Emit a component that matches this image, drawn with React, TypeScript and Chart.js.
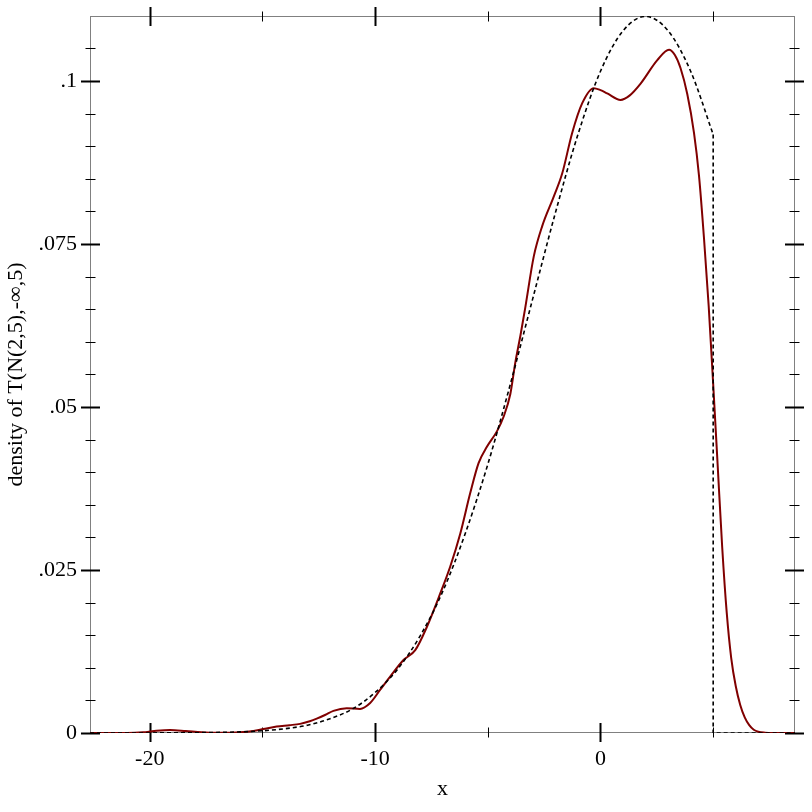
import { useEffect, useRef } from 'react';
import { Chart, registerables } from 'chart.js';

Chart.register(...registerables);

const xRange = [-22.65, 8.63];
const yRange = [0, 0.10997];

const xMajorTicks = [-20, -10, 0];
const xMinorTicks = [-15, -5, 5];
const yMajorTicks = [0, 0.025, 0.05, 0.075, 0.1];
const yTickLabels = ['0', '.025', '.05', '.075', '.1'];
const yMinorTicks = [0.005, 0.01, 0.015, 0.02, 0.03, 0.035, 0.04, 0.045, 0.055, 0.06, 0.065, 0.07, 0.08, 0.085, 0.09, 0.095, 0.105];

// kernel density estimate (solid dark red)
const kdeX = [-22.65, -21.0, -20.3, -19.8, -19.1, -18.4, -17.7, -17.0, -16.0, -15.4, -14.96, -14.37, -13.8, -13.33, -12.9, -12.59, -12.2, -11.85, -11.26, -10.67, -10.22, -9.78, -9.3, -8.74, -8.22, -7.7, -7.11, -6.67, -6.22, -5.78, -5.41, -5.04, -4.59, -4.3, -4.0, -3.78, -3.55, -3.33, -2.96, -2.59, -2.07, -1.7, -1.26, -0.81, -0.3, 0.0, 0.3, 0.89, 1.3, 1.78, 2.52, 3.04, 3.3, 3.55, 3.85, 4.15, 4.37, 4.59, 4.8, 5.0, 5.2, 5.4, 5.6, 5.8, 6.0, 6.2, 6.4, 6.6, 6.8, 7.0, 7.3, 7.6, 8.63];
const kdeY = [0, 0, 0.0001, 0.0003, 0.00046, 0.0003, 0.0001, 0.00002, 0.0001, 0.0003, 0.0006, 0.001, 0.0012, 0.0014, 0.0018, 0.0022, 0.0028, 0.0034, 0.0038, 0.0037, 0.0046, 0.0066, 0.0088, 0.0112, 0.0127, 0.0163, 0.0214, 0.0255, 0.0306, 0.0368, 0.0414, 0.0439, 0.0463, 0.0485, 0.052, 0.0568, 0.061, 0.0654, 0.0731, 0.0777, 0.0823, 0.0858, 0.092, 0.0966, 0.0989, 0.0986, 0.0981, 0.0971, 0.0978, 0.0996, 0.1032, 0.1048, 0.104, 0.102, 0.098, 0.092, 0.0855, 0.076, 0.0655, 0.0535, 0.041, 0.0285, 0.0185, 0.0115, 0.0072, 0.0043, 0.0024, 0.0012, 0.0005, 0.0002, 0.00005, 0, 0];

// truncated normal density (dashed black)
const pdfX = [-22.65, -20, -18, -16, -15, -14, -13, -12, -11, -10, -9, -8, -7, -6, -5, -4, -3, -2, -1, 0, 1, 2, 3, 4, 5];
const pdfY = [0, 0.00001, 0.00004, 0.00017, 0.00034, 0.00066, 0.0012, 0.0022, 0.0037, 0.0062, 0.0098, 0.0149, 0.0217, 0.0306, 0.0412, 0.0535, 0.0667, 0.0798, 0.0918, 0.1015, 0.1077, 0.1099, 0.1077, 0.1015, 0.0918];
const cutX = [5, 5, 8.63];
const cutY = [0.0918, 0, 0];

const FONT = 'Liberation Serif, Times New Roman, serif';
const FONT_SIZE = 22;

const frameTicks = {
  id: 'frameTicks',
  beforeDatasetsDraw(chart: any) {
    const { ctx, chartArea: a, scales } = chart;
    const xs = scales.x;
    const ys = scales.y;
    const L = Math.round(a.left) + 0.5;
    const R = Math.round(a.right) - 0.5;
    const T = Math.round(a.top) + 0.5;
    const B = Math.round(a.bottom) - 0.5;
    ctx.save();
    ctx.lineWidth = 1;
    ctx.strokeStyle = '#808080';
    ctx.strokeRect(L, T, R - L, B - T);
    ctx.strokeStyle = '#000';
    const vt = (v: number, h: number, w: number) => {
      const px = Math.round(xs.getPixelForValue(v)) + 0.5;
      ctx.lineWidth = w;
      ctx.beginPath();
      ctx.moveTo(px, B - h); ctx.lineTo(px, B + h);
      ctx.moveTo(px, T - h); ctx.lineTo(px, T + h);
      ctx.stroke();
    };
    const ht = (v: number, h: number, w: number) => {
      const py = Math.round(ys.getPixelForValue(v)) + 0.5;
      ctx.lineWidth = w;
      ctx.beginPath();
      ctx.moveTo(L - h, py); ctx.lineTo(L + h, py);
      ctx.moveTo(R - h, py); ctx.lineTo(R + h, py);
      ctx.stroke();
    };
    xMajorTicks.forEach((v) => vt(v, 9.5, 2));
    xMinorTicks.forEach((v) => vt(v, 5, 1));
    yMajorTicks.forEach((v) => ht(v, 9.5, 2));
    yMinorTicks.forEach((v) => ht(v, 5, 1));
    ctx.restore();
  },
};

export default function App() {
  const ref = useRef<HTMLCanvasElement>(null);
  useEffect(() => {
    if (!ref.current) return;
    const chart = new Chart(ref.current, {
      type: 'line',
      data: {
        datasets: [
          {
            data: pdfX.map((x, i) => ({ x, y: pdfY[i] })),
            borderColor: '#000',
            borderWidth: 1.6,
            borderDash: [4, 3],
            pointRadius: 0,
            cubicInterpolationMode: 'monotone',
            fill: false,
          },
          {
            data: cutX.map((x, i) => ({ x, y: cutY[i] })),
            borderColor: '#000',
            borderWidth: 1.6,
            borderDash: [4, 3],
            pointRadius: 0,
            tension: 0,
            fill: false,
          },
          {
            data: kdeX.map((x, i) => ({ x, y: kdeY[i] })),
            borderColor: '#800000',
            borderWidth: 2,
            pointRadius: 0,
            cubicInterpolationMode: 'monotone',
            fill: false,
          },
        ],
      },
      plugins: [frameTicks],
      options: {
        animation: false,
        responsive: false,
        layout: { padding: { top: 16, right: 17, left: 0, bottom: 0 } },
        plugins: { legend: { display: false }, tooltip: { enabled: false } },
        scales: {
          x: {
            type: 'linear',
            position: 'bottom',
            min: xRange[0],
            max: xRange[1],
            afterBuildTicks: (s: any) => {
              s.ticks = xMajorTicks.map((v) => ({ value: v }));
            },
            afterFit: (s: any) => {
              s.height = 79;
              s.paddingLeft = 0;
              s.paddingRight = 0;
            },
            grid: { display: false, drawTicks: false },
            border: { display: false },
            ticks: {
              font: { family: FONT, size: FONT_SIZE },
              color: '#000',
              padding: 13,
              maxRotation: 0,
              autoSkip: false,
              callback: (v: any) => String(v),
            },
            title: {
              display: true,
              text: 'x',
              color: '#000',
              font: { family: FONT, size: FONT_SIZE },
              padding: { top: 0, bottom: 10 },
            },
          },
          y: {
            type: 'linear',
            position: 'left',
            min: yRange[0],
            max: yRange[1],
            afterBuildTicks: (s: any) => {
              s.ticks = yMajorTicks.map((v) => ({ value: v }));
            },
            afterFit: (s: any) => {
              s.width = 90;
              s.paddingTop = 0;
              s.paddingBottom = 0;
            },
            grid: { display: false, drawTicks: false },
            border: { display: false },
            ticks: {
              font: { family: FONT, size: FONT_SIZE },
              color: '#000',
              padding: 13,
              autoSkip: false,
              callback: (v: any) => {
                const i = yMajorTicks.findIndex((t) => Math.abs(t - Number(v)) < 1e-9);
                return i >= 0 ? yTickLabels[i] : '';
              },
            },
            title: {
              display: true,
              text: 'density of T(N(2,5),-∞,5)',
              color: '#000',
              font: { family: FONT, size: FONT_SIZE },
              padding: { top: 3, bottom: 0 },
            },
          },
        },
      } as any,
    });
    return () => chart.destroy();
  }, []);
  return (
    <div style={{ position: 'absolute', left: 0, top: 0, width: 812, height: 812, background: '#fff' }}>
      <canvas ref={ref} width={812} height={812} style={{ display: 'block' }} />
    </div>
  );
}
